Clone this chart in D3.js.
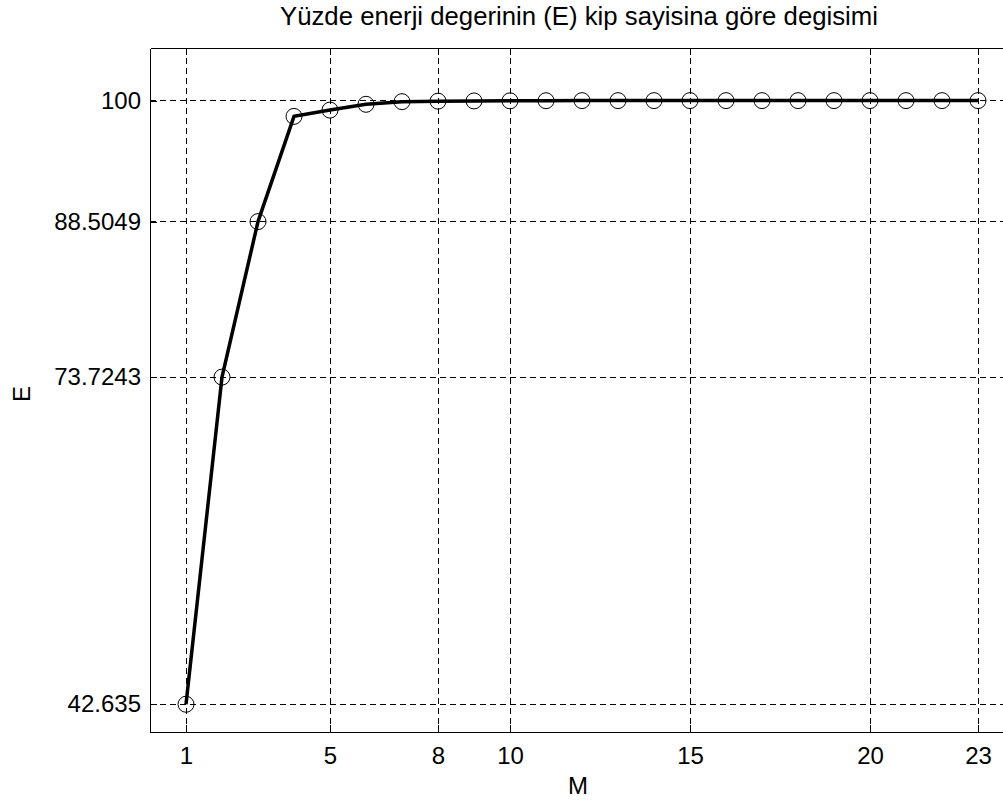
<!DOCTYPE html>
<html>
<head>
<meta charset="utf-8">
<script src="https://cdn.jsdelivr.net/npm/d3@7"></script>
<style>
  body { margin: 0; background: #fff; }
  svg { display: block; font-family: "Liberation Sans", Arial, sans-serif; }
  .grid line { stroke: #000; stroke-width: 1; stroke-dasharray: 6,4; shape-rendering: crispEdges; }
  .axis path, .axis line { stroke: #000; shape-rendering: crispEdges; }
  .axis text { fill: #000; font-size: 24px; }
</style>
</head>
<body>
<svg class="linechart" width="1003" height="803"></svg>
<script>
(function () {

    'use strict';

    // number of modes (M) and percent energy (E)
    var modes = [1, 2, 3, 4, 5, 6, 7, 8, 9, 10, 11, 12, 13, 14, 15, 16, 17, 18, 19, 20, 21, 22, 23];
    var energy = [42.635, 73.7243, 88.5049, 98.5, 99.1, 99.65, 99.9, 99.95, 99.97, 99.98, 99.99,
                  100, 100, 100, 100, 100, 100, 100, 100, 100, 100, 100, 100];
    var xTicks = [1, 5, 8, 10, 15, 20, 23];
    var yTicks = [42.635, 73.7243, 88.5049, 100];
    var yTickLabels = ['42.635', '73.7243', '88.5049', '100'];

    var data = modes.map(function (m, i) { return { m: m, e: energy[i] }; });

    var svg = d3.select("svg.linechart");
    var margin = { top: 48, right: -11, bottom: 71, left: 150 };
    var width = svg.attr("width") - margin.left - margin.right;
    var height = svg.attr("height") - margin.top - margin.bottom;

    var x = d3.scaleLinear().domain([0, 24]).range([0, width]);
    var y = d3.scaleLinear().domain([40, 105]).range([height, 0]);

    var g = svg.append("g").attr("transform", "translate(" + margin.left + "," + margin.top + ")");

    // dashed grid
    g.append("g")
        .attr("class", "grid")
        .selectAll("line.v")
        .data(xTicks)
        .enter().append("line")
        .attr("x1", function (d) { return x(d); })
        .attr("x2", function (d) { return x(d); })
        .attr("y1", 0)
        .attr("y2", height);

    g.append("g")
        .attr("class", "grid")
        .selectAll("line.h")
        .data(yTicks)
        .enter().append("line")
        .attr("x1", 0)
        .attr("x2", width)
        .attr("y1", function (d) { return y(d); })
        .attr("y2", function (d) { return y(d); });

    // axes with inward ticks
    g.append("g")
        .attr("class", "axis")
        .attr("transform", "translate(0," + height + ")")
        .call(d3.axisBottom(x).tickValues(xTicks).tickSizeInner(-7).tickSizeOuter(0).tickPadding(15));

    g.append("g")
        .attr("class", "axis")
        .call(d3.axisTop(x).tickValues(xTicks).tickSizeInner(-7).tickSizeOuter(0).tickFormat(""));

    g.append("g")
        .attr("class", "axis")
        .call(d3.axisLeft(y).tickValues(yTicks).tickSizeInner(-7).tickSizeOuter(0).tickPadding(9)
            .tickFormat(function (d, i) { return yTickLabels[i]; }));

    // line
    var line = d3.line()
        .x(function (d) { return x(d.m); })
        .y(function (d) { return y(d.e); });

    g.append("path")
        .datum(data)
        .attr("fill", "none")
        .attr("stroke", "#000")
        .attr("stroke-width", 3.5)
        .attr("d", line);

    g.selectAll("circle")
        .data(data)
        .enter().append("circle")
        .attr("cx", function (d) { return x(d.m); })
        .attr("cy", function (d) { return y(d.e); })
        .attr("r", 8)
        .attr("fill", "none")
        .attr("stroke", "#000")
        .attr("stroke-width", 1);

    // labels
    svg.append("text")
        .attr("x", 579)
        .attr("y", 25)
        .attr("text-anchor", "middle")
        .attr("font-size", 25)
        .attr("textLength", 598)
        .attr("lengthAdjust", "spacingAndGlyphs")
        .text("Yüzde enerji degerinin (E) kip sayisina göre degisimi");

    svg.append("text")
        .attr("x", margin.left + x(12) - 4)
        .attr("y", 794)
        .attr("text-anchor", "middle")
        .attr("font-size", 24)
        .text("M");

    svg.append("text")
        .attr("transform", "translate(30," + (margin.top + height / 2 + 4) + ") rotate(-90)")
        .attr("text-anchor", "middle")
        .attr("font-size", 24)
        .text("E");
})();
</script>
</body>
</html>
